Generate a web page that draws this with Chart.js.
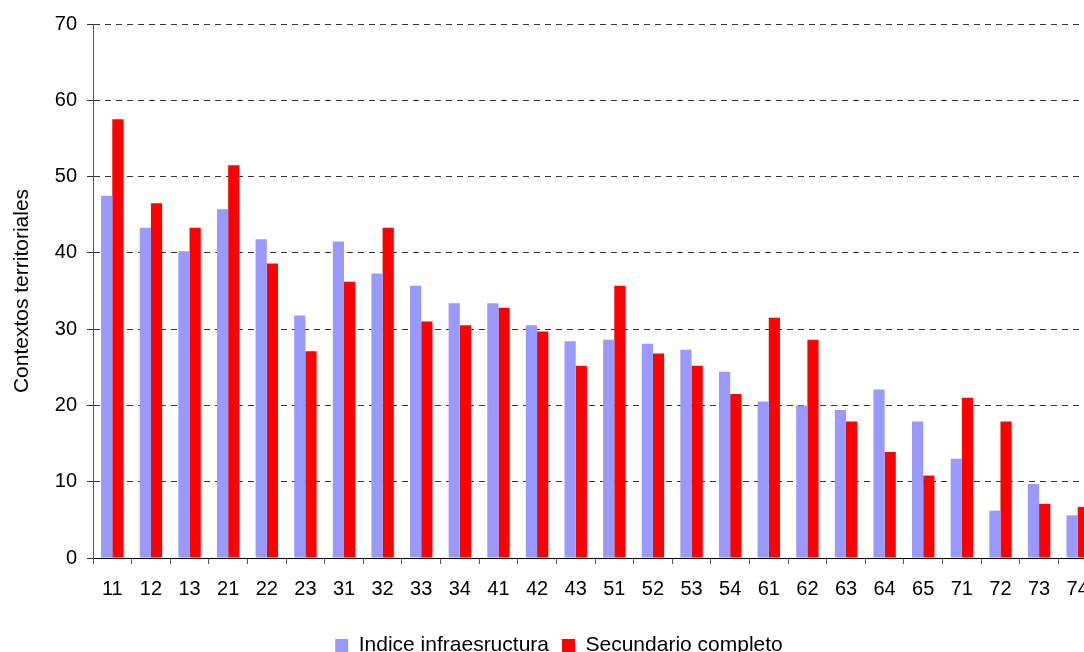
<!DOCTYPE html>
<html>
<head>
<meta charset="utf-8">
<script src="https://cdn.jsdelivr.net/npm/chart.js@4"></script>
<style>
  html, body { margin: 0; padding: 0; background: #fff; overflow: hidden; }
  #wrap { width: 1110px; height: 652px; }
</style>
</head>
<body>
<div id="wrap"><canvas id="chart" width="1110" height="652"></canvas></div>
<script>
// Contextos territoriales
const categories = ['11', '12', '13', '21', '22', '23', '31', '32', '33', '34', '41', '42', '43',
                    '51', '52', '53', '54', '61', '62', '63', '64', '65', '71', '72', '73', '74'];
const infraestructura = [47.5, 43.3, 40.2, 45.7, 41.8, 31.8, 41.5, 37.3, 35.7, 33.4, 33.4, 30.5, 28.4,
                         28.6, 28.1, 27.3, 24.4, 20.5, 20.0, 19.4, 22.1, 17.9, 13.0, 6.2, 9.7, 5.6];
const secundario = [57.5, 46.5, 43.3, 51.5, 38.6, 27.1, 36.2, 43.3, 31.0, 30.5, 32.8, 29.7, 25.2,
                    35.7, 26.8, 25.2, 21.5, 31.5, 28.6, 17.9, 13.9, 10.8, 21.0, 17.9, 7.1, 6.7];
const yTicks = [0, 10, 20, 30, 40, 50, 60, 70];

const font = 'Arial, "Liberation Sans", sans-serif';

new Chart(document.getElementById('chart').getContext('2d'), {
    type: 'bar',
    data: {
        labels: categories,
        datasets: [
            { label: 'Indice infraesructura', data: infraestructura, backgroundColor: '#9999FF' },
            { label: 'Secundario completo', data: secundario, backgroundColor: '#FF0000' }
        ]
    },
    options: {
        responsive: false,
        animation: false,
        // left padding shifts the legend centre; the y axis box is narrowed to compensate
        layout: { padding: { top: 24, right: 13, left: 21, bottom: -14 } },
        datasets: { bar: { categoryPercentage: 0.58, barPercentage: 1.0 } },
        plugins: {
            tooltip: { enabled: false },
            legend: {
                position: 'bottom',
                fullSize: true,
                labels: {
                    boxWidth: 13, boxHeight: 13, padding: 13,
                    color: '#000',
                    font: { family: font, size: 21 }
                }
            }
        },
        scales: {
            x: {
                grid: { drawOnChartArea: false, drawTicks: true, tickLength: 6, color: '#555' },
                border: { color: '#000', width: 1 },
                ticks: { color: '#000', font: { family: font, size: 20 }, padding: 13, maxRotation: 0, autoSkip: false },
                afterFit: (scale) => { scale.height = 64; }
            },
            y: {
                min: 0, max: 70,
                afterBuildTicks: (scale) => { scale.ticks = yTicks.map(v => ({ value: v })); },
                grid: { color: '#333', tickLength: 6, tickColor: '#333' },
                border: { color: '#555', width: 1, dash: [6, 5] },
                ticks: { color: '#000', font: { family: font, size: 20 }, padding: 10 },
                title: {
                    display: true, text: 'Contextos territoriales', color: '#000',
                    font: { family: font, size: 21 }, padding: { top: -11, bottom: 4 }
                },
                afterFit: (scale) => { scale.width = 72; }
            }
        }
    }
});
</script>
</body>
</html>
